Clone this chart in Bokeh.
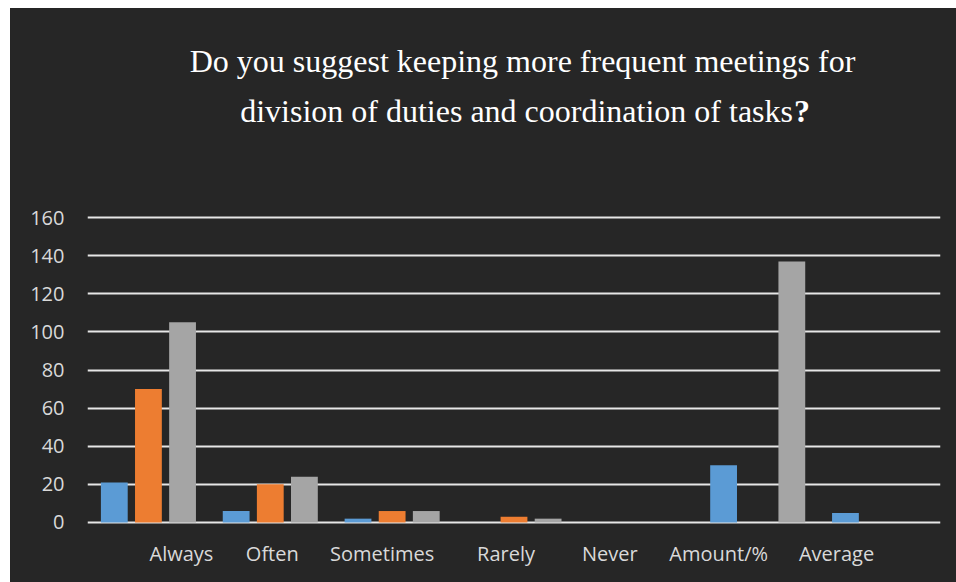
from bokeh.plotting import figure
from bokeh.models import (ColumnDataSource, FixedTicker, Range1d, FactorRange,
                          LabelSet, Label)
from bokeh.core.properties import value
from bokeh.transform import dodge
from bokeh.embed import file_html
from bokeh.resources import INLINE

# ---- data ----
categories = ["Always", "Often", "Sometimes", "Rarely", "Never", "Amount/%", "Average"]
series1 = [21, 6, 2, 0, 0, 30, 5]        # blue
series2 = [70, 20, 6, 3, 0, 0, 0]        # orange
series3 = [105, 24, 6, 2, 0, 137, 0]     # gray
y_ticks = [0, 20, 40, 60, 80, 100, 120, 140, 160]
title_line1 = "Do you suggest keeping more frequent meetings for"
title_line2 = "division of duties and coordination of tasks"
title_mark = "?"

# ---- styles ----
BG = "#262626"
TXT = "#d9d9d9"
GRID = "#e6e6e6"
label_x_offsets = [33, 2, -10, -8, -26, -39, -43]

src = ColumnDataSource(dict(cat=categories, s1=series1, s2=series2, s3=series3))

p = figure(width=946, height=574, x_range=FactorRange(*categories, range_padding=0),
           y_range=Range1d(-31.5, 269.7), output_backend="svg", toolbar_location=None,
           background_fill_color=BG, border_fill_color=BG, outline_line_color=None,
           min_border_left=77, min_border_right=16, min_border_top=0,
           min_border_bottom=0, margin=(8, 0, 0, 10),
           styles={"background-color": BG})

w = 0.22
p.vbar(x=dodge("cat", -0.28, range=p.x_range), top="s1", width=w, bottom=0,
       source=src, fill_color="#5b9bd5", line_color=None)
p.vbar(x=dodge("cat", 0.0, range=p.x_range), top="s2", width=w, bottom=0,
       source=src, fill_color="#ed7d31", line_color=None)
p.vbar(x=dodge("cat", 0.28, range=p.x_range), top="s3", width=w, bottom=0,
       source=src, fill_color="#a5a5a5", line_color=None)

# grid
p.xgrid.grid_line_color = None
p.ygrid.ticker = FixedTicker(ticks=y_ticks)
p.ygrid.grid_line_color = GRID
p.ygrid.grid_line_width = 2

# y axis
p.yaxis.ticker = FixedTicker(ticks=y_ticks)
p.yaxis.axis_line_color = None
p.yaxis.major_tick_line_color = None
p.yaxis.minor_tick_line_color = None
p.yaxis.major_tick_out = 0
p.yaxis.major_tick_in = 0
p.yaxis.minor_tick_out = 0
p.yaxis.major_label_standoff = 23
p.yaxis.major_label_text_font = "Open Sans"
p.yaxis.major_label_text_font_size = "20px"
p.yaxis.major_label_text_color = TXT

# x axis: category labels drawn as a label set under the zero line
p.xaxis.visible = False
lab_src = ColumnDataSource(dict(cat=categories, y=[0] * len(categories),
                                xo=label_x_offsets))
p.add_layout(LabelSet(x="cat", y="y", text="cat", source=lab_src, x_offset="xo",
                      y_offset=-31, text_align="center", text_baseline="middle",
                      text_font=value("Open Sans"), text_font_size=value("20px"),
                      text_color=value(TXT)))

# title (anchored at the middle of the category axis)
mid = len(categories) / 2
p.add_layout(Label(x=mid, y=160, x_offset=8.5, y_offset=157, text=title_line1,
                   text_align="center", text_baseline="alphabetic",
                   text_font="Liberation Serif", text_font_size="32px",
                   text_color="#ffffff"))
p.add_layout(Label(x=mid, y=160, x_offset=279, y_offset=107, text=title_line2,
                   text_align="right", text_baseline="alphabetic",
                   text_font="Liberation Serif", text_font_size="32px",
                   text_color="#ffffff"))
p.add_layout(Label(x=mid, y=160, x_offset=280, y_offset=107, text=title_mark,
                   text_align="left", text_baseline="alphabetic",
                   text_font="Liberation Serif", text_font_size="32px",
                   text_font_style="bold", text_color="#ffffff"))

open("out.html", "w").write(file_html(p, INLINE))
